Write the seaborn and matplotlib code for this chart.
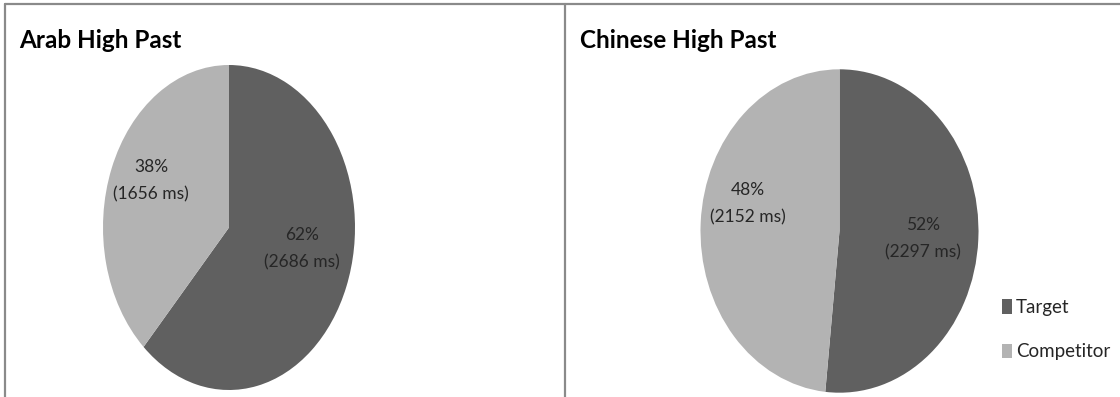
import matplotlib
matplotlib.use("Agg")
import matplotlib.pyplot as plt
from matplotlib.lines import Line2D
from matplotlib.patches import Patch
import seaborn as sns

# Mean fixation times (ms) for target vs competitor
categories = ["Target", "Competitor"]
arab_ms = [2686, 1656]
chinese_ms = [2297, 2152]
panel_titles = ["Arab High Past", "Chinese High Past"]

sns.set_theme(style="white")
plt.rcParams["font.family"] = ["Lato", "DejaVu Sans"]

colors = ["#606060", "#b3b3b3"]
W, H = 1120, 397
fig = plt.figure(figsize=(W / 100, H / 100), dpi=100)
fig.patch.set_facecolor("white")


def px_axes(left, top, right, bottom):
    return fig.add_axes([left / W, 1 - bottom / H, (right - left) / W, (bottom - top) / H])


# pie bounding boxes in pixels (left, top, right, bottom)
boxes = [(103, 65, 355, 390), (700.5, 69.3, 978.5, 392.7)]
# label anchor positions in axes-fraction units, one per wedge
label_pos = [[(0.79, 0.435), (0.19, 0.645)], [(0.80, 0.475), (0.17, 0.585)]]

for values, title, box, lpos in zip([arab_ms, chinese_ms], panel_titles, boxes, label_pos):
    ax = px_axes(*box)
    total = sum(values)
    wedges, _ = ax.pie(values, colors=colors, startangle=90, counterclock=False,
                       radius=1, wedgeprops=dict(linewidth=0))
    ax.set_aspect("auto")
    ax.set_xlim(-1, 1)
    ax.set_ylim(-1, 1)
    ax.axis("off")
    for v, (lx, ly) in zip(values, lpos):
        ax.text(lx, ly, f"{round(100 * v / total)}%\n({v} ms)", transform=ax.transAxes,
                ha="center", va="center", fontsize=12.5, color="#262626", linespacing=1.85)

fig.text(19 / W, 1 - 40 / H, panel_titles[0], fontsize=17.5, fontweight="bold",
         color="black", va="center", ha="left")
fig.text(580 / W, 1 - 40 / H, panel_titles[1], fontsize=17.5, fontweight="bold",
         color="black", va="center", ha="left")

# panel borders
line_kw = dict(color="#8a8a8a", linewidth=1.6, transform=fig.transFigure)
fig.add_artist(Line2D([5 / W, 1], [1 - 4 / H, 1 - 4 / H], **line_kw))
fig.add_artist(Line2D([5 / W, 5 / W], [0, 1 - 4 / H], **line_kw))
fig.add_artist(Line2D([565 / W, 565 / W], [0, 1 - 4 / H], **line_kw))

handles = [Patch(facecolor=c, edgecolor="none") for c in colors]
fig.legend(handles, categories, loc="upper left", bbox_to_anchor=(1002 / W, 1 - 299 / H),
           frameon=False, fontsize=13.5, handlelength=0.55, handleheight=0.8,
           handletextpad=0.2, labelspacing=1.45, borderpad=0, borderaxespad=0)

fig.savefig("out.png", dpi=100, facecolor="white")
